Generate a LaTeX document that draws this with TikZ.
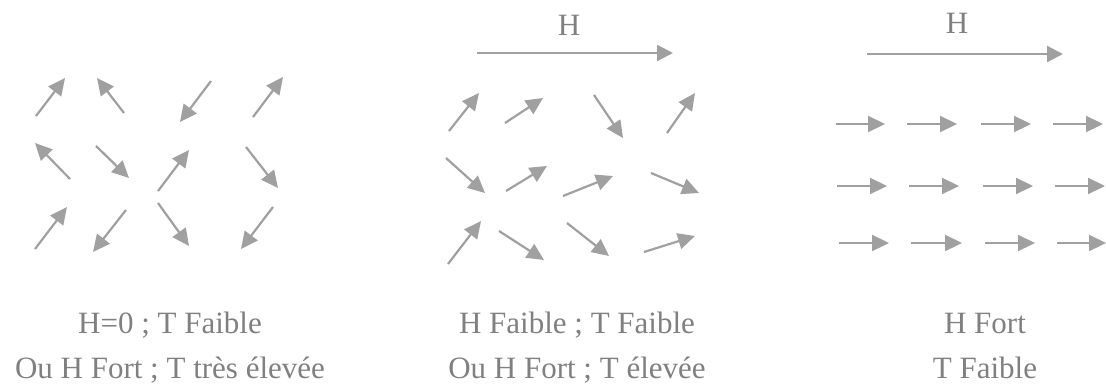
\documentclass[tikz,border=0pt]{standalone}
\usepackage{fontspec}
\setmainfont{Liberation Serif}
\usepackage{tikz}
\usepackage{xcolor}
\usetikzlibrary{arrows.meta}
\definecolor{spin-gray}{RGB}{160,160,160}
\definecolor{text-gray}{RGB}{128,128,128}
\tikzset{
    spin-arrow/.style = {draw=spin-gray, line width=2.2pt, -{Triangle[length=17pt, width=16pt]}},
    field-arrow/.style = {draw=spin-gray, line width=2.2pt, -{Triangle[length=16pt, width=16pt]}},
    caption-text/.style = {text=text-gray, font=\fontsize{31}{35}\selectfont, anchor=base, inner sep=0pt},
    field-label/.style = {text=text-gray, font=\fontsize{31}{35}\selectfont, anchor=base, inner sep=0pt},
}

\begin{document}
\begin{tikzpicture}[x=1pt, y=-1pt]
\useasboundingbox (0,0) rectangle (1106,383);
% H = 0 : disordered spins
\draw[spin-arrow] (36,116) -- (65,78);
\draw[spin-arrow] (124,113) -- (97,78);
\draw[spin-arrow] (211,81) -- (180,122);
\draw[spin-arrow] (253,117) -- (283,77);
\draw[spin-arrow] (70,179) -- (35,143);
\draw[spin-arrow] (96,146) -- (129,178);
\draw[spin-arrow] (158,191) -- (189,150);
\draw[spin-arrow] (246,147) -- (278,188);
\draw[spin-arrow] (35,249) -- (67,207);
\draw[spin-arrow] (126,210) -- (93,252);
\draw[spin-arrow] (158,203) -- (189,246);
\draw[spin-arrow] (273,207) -- (241,249);
\node[caption-text] (left-line1) at (170,333) {H=0 ; T Faible};
\node[caption-text] (left-line2) at (170,378) {Ou H Fort ; T très élevée};

% weak field : partly ordered spins
\node[field-label] (mid-H) at (569,35) {H};
\draw[field-arrow] (477,53) -- (673,53);
\draw[spin-arrow] (449,131) -- (479,93);
\draw[spin-arrow] (505,123) -- (543,98);
\draw[spin-arrow] (594,95) -- (623,138);
\draw[spin-arrow] (667,133) -- (695,93);
\draw[spin-arrow] (446,158) -- (485,193);
\draw[spin-arrow] (506,191) -- (547,166);
\draw[spin-arrow] (563,196) -- (613,176);
\draw[spin-arrow] (651,173) -- (699,193);
\draw[spin-arrow] (448,264) -- (481,221);
\draw[spin-arrow] (499,231) -- (544,260);
\draw[spin-arrow] (567,223) -- (609,256);
\draw[spin-arrow] (644,252) -- (695,236);
\node[caption-text] (mid-line1) at (577,333) {H Faible ; T Faible};
\node[caption-text] (mid-line2) at (577,378) {Ou H Fort ; T élevée};

% strong field : aligned spins
\node[field-label] (right-H) at (957,33) {H};
\draw[field-arrow] (867,54) -- (1063,54);
\draw[spin-arrow] (836,124) -- (885,124);
\draw[spin-arrow] (907,124) -- (957,124);
\draw[spin-arrow] (981,124) -- (1031,124);
\draw[spin-arrow] (1053,124) -- (1103,124);
\draw[spin-arrow] (837,186) -- (887,186);
\draw[spin-arrow] (909,186) -- (959,186);
\draw[spin-arrow] (983,186) -- (1033,186);
\draw[spin-arrow] (1055,186) -- (1105,186);
\draw[spin-arrow] (839,243) -- (889,243);
\draw[spin-arrow] (911,243) -- (962,243);
\draw[spin-arrow] (985,243) -- (1035,243);
\draw[spin-arrow] (1057,243) -- (1106,243);
\node[caption-text] (right-line1) at (985,333) {H Fort};
\node[caption-text] (right-line2) at (985,378) {T Faible};
\end{tikzpicture}
\end{document}
